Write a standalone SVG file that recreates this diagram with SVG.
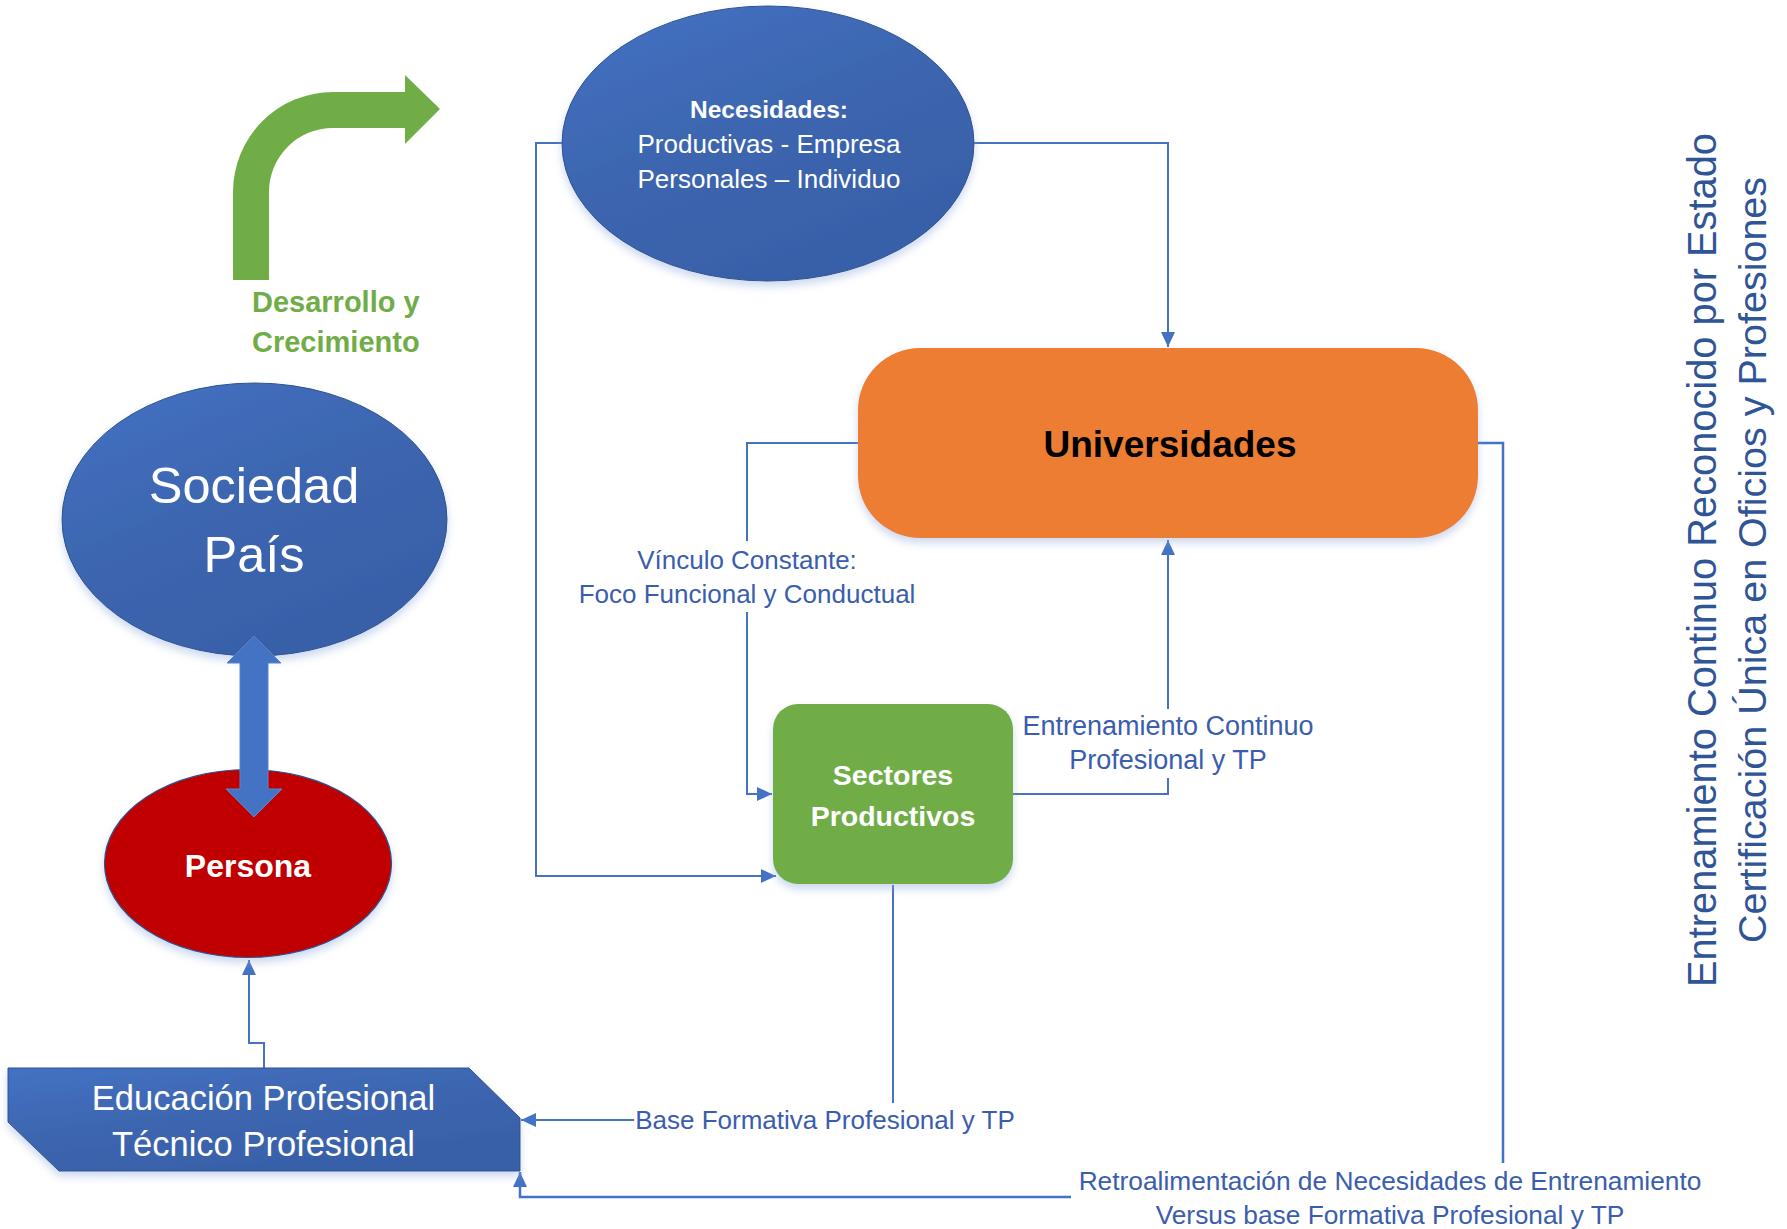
<svg xmlns="http://www.w3.org/2000/svg" width="1787" height="1229" viewBox="0 0 1787 1229">
<style>
.lbl{font-family:"Liberation Sans",Arial,sans-serif;font-size:26px;fill:#3A5DAE;text-anchor:middle}
.wt{font-family:"Liberation Sans",Arial,sans-serif;fill:#ffffff;text-anchor:middle}
.conn{fill:none;stroke:#4472C4;stroke-width:2}
.bg{fill:#ffffff}
</style>
<defs>
<linearGradient id="gBlue" x1="0" y1="0" x2="0.6" y2="1">
<stop offset="0" stop-color="#4472C4"/>
<stop offset="0.5" stop-color="#3D66B0"/>
<stop offset="1" stop-color="#3860A8"/>
</linearGradient>
<filter id="sh" x="-10%" y="-10%" width="120%" height="130%">
<feDropShadow dx="0" dy="5" stdDeviation="4" flood-color="#8EA9DB" flood-opacity="0.45"/>
</filter>
<marker id="ah" markerUnits="userSpaceOnUse" markerWidth="16" markerHeight="14" refX="15" refY="7" orient="auto">
<path d="M0,0 L15,7 L0,14 Z" fill="#4472C4"/>
</marker>
</defs>

<g id="connectors">
<path class="conn" d="M562,143 L536,143 L536,876 L776,876" marker-end="url(#ah)"/>
<path class="conn" d="M974,143 L1168,143 L1168,347" marker-end="url(#ah)"/>
<path class="conn" d="M858,443 L747,443 L747,794 L772,794" marker-end="url(#ah)"/>
<path class="conn" d="M1013,794 L1168,794 L1168,540" marker-end="url(#ah)"/>
<path class="conn" d="M893,885 L893,1120 L521,1120" marker-end="url(#ah)"/>
<path class="conn" style="stroke-width:2.5" d="M1478,443 L1503,443 L1503,1197 L520,1197 L520,1172" marker-end="url(#ah)"/>
<path class="conn" d="M264,1068 L264,1043 L249,1043 L249,960" marker-end="url(#ah)"/>
<rect class="bg" x="574" y="541" width="346" height="71"/>
<text class="lbl" x="747" y="569">Vínculo Constante:</text>
<text class="lbl" x="747" y="603">Foco Funcional y Conductual</text>
<rect class="bg" x="1018" y="709" width="302" height="69"/>
<text class="lbl" x="1168" y="735" style="font-size:27px">Entrenamiento Continuo</text>
<text class="lbl" x="1168" y="769" style="font-size:27px">Profesional y TP</text>
<rect class="bg" x="634" y="1103" width="382" height="36"/>
<text class="lbl" x="825" y="1129">Base Formativa Profesional y TP</text>
<rect class="bg" x="1071" y="1163" width="641" height="66"/>
<text class="lbl" x="1390" y="1190" style="font-size:26.3px">Retroalimentación de Necesidades de Entrenamiento</text>
<text class="lbl" x="1390" y="1224" style="font-size:26.3px">Versus base Formativa Profesional y TP</text>
</g>

<g id="desarrollo">
<path d="M233,280 L233,192 A100,100 0 0 1 333,92 L405,92 L405,75 L440,109 L405,144 L405,128 L333,128 A64,64 0 0 0 269,192 L269,280 Z" fill="#70AD47"/>
<text x="252" y="312" style="font-family:'Liberation Sans',Arial,sans-serif;font-weight:bold;font-size:29px;fill:#70AD47">Desarrollo y</text>
<text x="252" y="352" style="font-family:'Liberation Sans',Arial,sans-serif;font-weight:bold;font-size:29px;fill:#70AD47">Crecimiento</text>
</g>

<g id="necesidades">
<ellipse cx="768" cy="143.5" rx="206" ry="137.5" fill="url(#gBlue)" stroke="#2F528F" stroke-width="1" filter="url(#sh)"/>
<text class="wt" x="769" y="118" style="font-size:24.5px;font-weight:bold">Necesidades:</text>
<text class="wt" x="769" y="153" style="font-size:26px">Productivas - Empresa</text>
<text class="wt" x="769" y="188" style="font-size:26px">Personales – Individuo</text>
</g>

<g id="universidades">
<rect x="858" y="348" width="620" height="190" rx="62" ry="62" fill="#ED7D31" filter="url(#sh)"/>
<text x="1170" y="457" style="font-family:'Liberation Sans',Arial,sans-serif;font-weight:bold;font-size:37px;fill:#000000;text-anchor:middle">Universidades</text>
</g>

<g id="sectores">
<rect x="773" y="704" width="240" height="180" rx="25" ry="25" fill="#70AD47" filter="url(#sh)"/>
<text class="wt" x="893" y="785" style="font-size:28.5px;font-weight:bold">Sectores</text>
<text class="wt" x="893" y="826" style="font-size:28.5px;font-weight:bold">Productivos</text>
</g>

<g id="sociedad">
<ellipse cx="254.5" cy="519.5" rx="192.5" ry="136.5" fill="url(#gBlue)" stroke="#2F528F" stroke-width="1" filter="url(#sh)"/>
<text class="wt" x="254" y="503" style="font-size:50.5px">Sociedad</text>
<text class="wt" x="254" y="572" style="font-size:50.5px">País</text>
</g>

<g id="persona">
<ellipse cx="248" cy="863.5" rx="143.5" ry="94" fill="#C00000" stroke="#2F528F" stroke-width="1.2" filter="url(#sh)"/>
<text class="wt" x="248" y="877" style="font-size:32px;font-weight:bold">Persona</text>
</g>

<g id="doble-flecha">
<path d="M254,636 L281,663 L268,663 L268,789 L282,789 L254,817 L226,789 L240,789 L240,663 L227,663 Z" fill="#4472C4" stroke="#5B84CC" stroke-width="1"/>
</g>

<g id="educacion">
<path d="M8,1068 L469,1068 L520,1118 L520,1171 L59,1171 L8,1122 Z" fill="url(#gBlue)" stroke="#2F528F" stroke-width="1" filter="url(#sh)"/>
<text class="wt" x="263.5" y="1110" style="font-size:34.5px">Educación Profesional</text>
<text class="wt" x="263.5" y="1156" style="font-size:34.5px">Técnico Profesional</text>
</g>

<g id="titulo-vertical">
<text transform="translate(1716,560) rotate(-90)" style="font-family:'Liberation Sans',Arial,sans-serif;font-size:39.8px;fill:#2F5597;text-anchor:middle">Entrenamiento Continuo Reconocido por Estado</text>
<text transform="translate(1766,560) rotate(-90)" style="font-family:'Liberation Sans',Arial,sans-serif;font-size:39.5px;fill:#2F5597;text-anchor:middle">Certificación Única en Oficios y Profesiones</text>
</g>
</svg>
